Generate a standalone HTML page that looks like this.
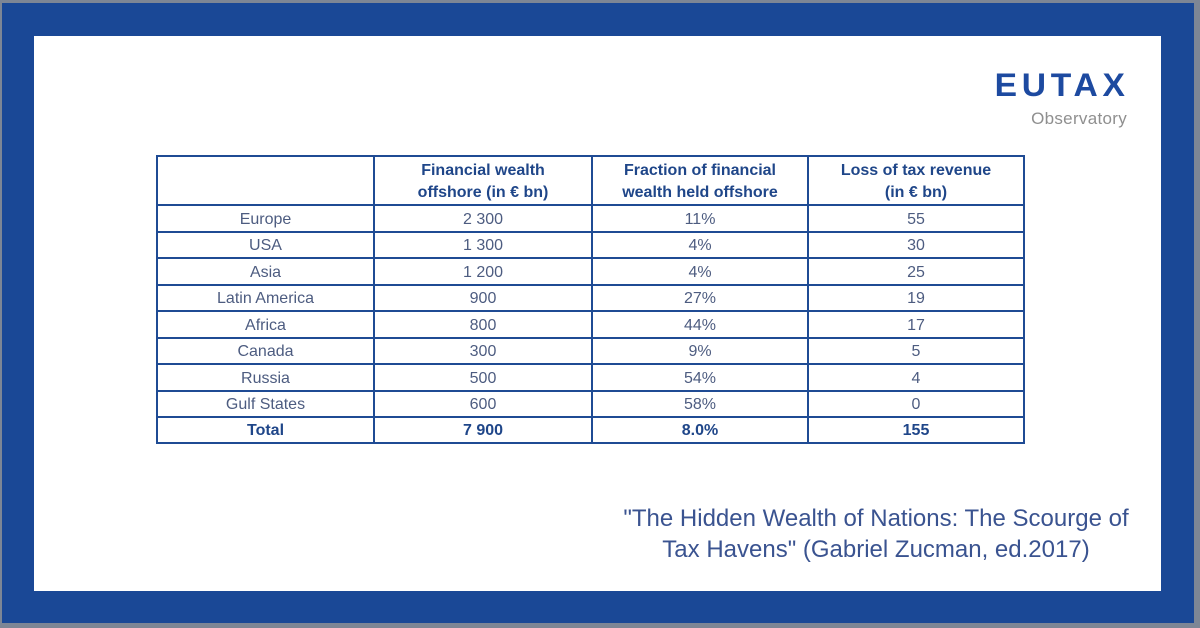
<!DOCTYPE html>
<html>
<head>
<meta charset="utf-8">
<style>
  html,body{margin:0;padding:0;}
  body{width:1200px;height:628px;background:#7d8695;position:relative;overflow:hidden;font-family:"Liberation Sans",sans-serif;}
  .blue{position:absolute;left:2px;top:3px;width:1192px;height:620px;background:#1a4896;}
  .white{position:absolute;left:34px;top:36px;width:1127px;height:555px;background:#ffffff;}
  .hl{position:absolute;height:2px;background:#1f4b94;left:156px;width:869px;}
  .vl{position:absolute;width:2px;background:#1f4b94;top:155px;height:289px;}
  .cell{position:absolute;text-align:center;color:#4d5c80;font-size:16px;line-height:26px;height:26px;}
  .hdr{position:absolute;text-align:center;color:#1f4689;font-weight:bold;font-size:16px;line-height:22px;top:160px;}
  .b{font-weight:bold;color:#1f4689;}
  .logo{position:absolute;right:70px;top:65px;color:#1d4aa0;font-weight:bold;font-size:32px;letter-spacing:4.5px;line-height:40px;transform:scaleX(1.05);transform-origin:right center;}
  .obs{position:absolute;right:73px;top:108px;color:#8f8f8f;font-size:17px;line-height:22px;letter-spacing:0.3px;}
  .cite{position:absolute;left:576px;width:600px;text-align:center;color:#3a5390;font-size:24px;line-height:31px;top:503px;letter-spacing:0px;}
</style>
</head>
<body>
<div class="blue"></div>
<div class="white"></div>

<div class="logo">EUTAX</div>
<div class="obs">Observatory</div>

<!-- horizontal lines -->
<div class="hl" style="top:155px"></div>
<div class="hl" style="top:204px"></div>
<div class="hl" style="top:231px"></div>
<div class="hl" style="top:257px"></div>
<div class="hl" style="top:284px"></div>
<div class="hl" style="top:310px"></div>
<div class="hl" style="top:337px"></div>
<div class="hl" style="top:363px"></div>
<div class="hl" style="top:390px"></div>
<div class="hl" style="top:416px"></div>
<div class="hl" style="top:442px"></div>
<!-- vertical lines -->
<div class="vl" style="left:156px"></div>
<div class="vl" style="left:373px"></div>
<div class="vl" style="left:591px"></div>
<div class="vl" style="left:807px"></div>
<div class="vl" style="left:1023px"></div>

<!-- header -->
<div class="hdr" style="left:375px;width:216px;">Financial wealth<br>offshore (in € bn)</div>
<div class="hdr" style="left:593px;width:214px;">Fraction of financial<br>wealth held offshore</div>
<div class="hdr" style="left:809px;width:214px;">Loss of tax revenue<br>(in € bn)</div>

<!-- rows -->
<div class="cell" style="left:158px;width:215px;top:207px">Europe</div>
<div class="cell" style="left:375px;width:216px;top:207px">2 300</div>
<div class="cell" style="left:593px;width:214px;top:207px">11%</div>
<div class="cell" style="left:809px;width:214px;top:207px">55</div>

<div class="cell" style="left:158px;width:215px;top:233px">USA</div>
<div class="cell" style="left:375px;width:216px;top:233px">1 300</div>
<div class="cell" style="left:593px;width:214px;top:233px">4%</div>
<div class="cell" style="left:809px;width:214px;top:233px">30</div>

<div class="cell" style="left:158px;width:215px;top:260px">Asia</div>
<div class="cell" style="left:375px;width:216px;top:260px">1 200</div>
<div class="cell" style="left:593px;width:214px;top:260px">4%</div>
<div class="cell" style="left:809px;width:214px;top:260px">25</div>

<div class="cell" style="left:158px;width:215px;top:286px">Latin America</div>
<div class="cell" style="left:375px;width:216px;top:286px">900</div>
<div class="cell" style="left:593px;width:214px;top:286px">27%</div>
<div class="cell" style="left:809px;width:214px;top:286px">19</div>

<div class="cell" style="left:158px;width:215px;top:313px">Africa</div>
<div class="cell" style="left:375px;width:216px;top:313px">800</div>
<div class="cell" style="left:593px;width:214px;top:313px">44%</div>
<div class="cell" style="left:809px;width:214px;top:313px">17</div>

<div class="cell" style="left:158px;width:215px;top:339px">Canada</div>
<div class="cell" style="left:375px;width:216px;top:339px">300</div>
<div class="cell" style="left:593px;width:214px;top:339px">9%</div>
<div class="cell" style="left:809px;width:214px;top:339px">5</div>

<div class="cell" style="left:158px;width:215px;top:366px">Russia</div>
<div class="cell" style="left:375px;width:216px;top:366px">500</div>
<div class="cell" style="left:593px;width:214px;top:366px">54%</div>
<div class="cell" style="left:809px;width:214px;top:366px">4</div>

<div class="cell" style="left:158px;width:215px;top:392px">Gulf States</div>
<div class="cell" style="left:375px;width:216px;top:392px">600</div>
<div class="cell" style="left:593px;width:214px;top:392px">58%</div>
<div class="cell" style="left:809px;width:214px;top:392px">0</div>

<div class="cell b" style="left:158px;width:215px;top:418px">Total</div>
<div class="cell b" style="left:375px;width:216px;top:418px">7 900</div>
<div class="cell b" style="left:593px;width:214px;top:418px">8.0%</div>
<div class="cell b" style="left:809px;width:214px;top:418px">155</div>

<div class="cite">"The Hidden Wealth of Nations: The Scourge of<br>Tax Havens" (Gabriel Zucman, ed.2017)</div>
</body>
</html>
